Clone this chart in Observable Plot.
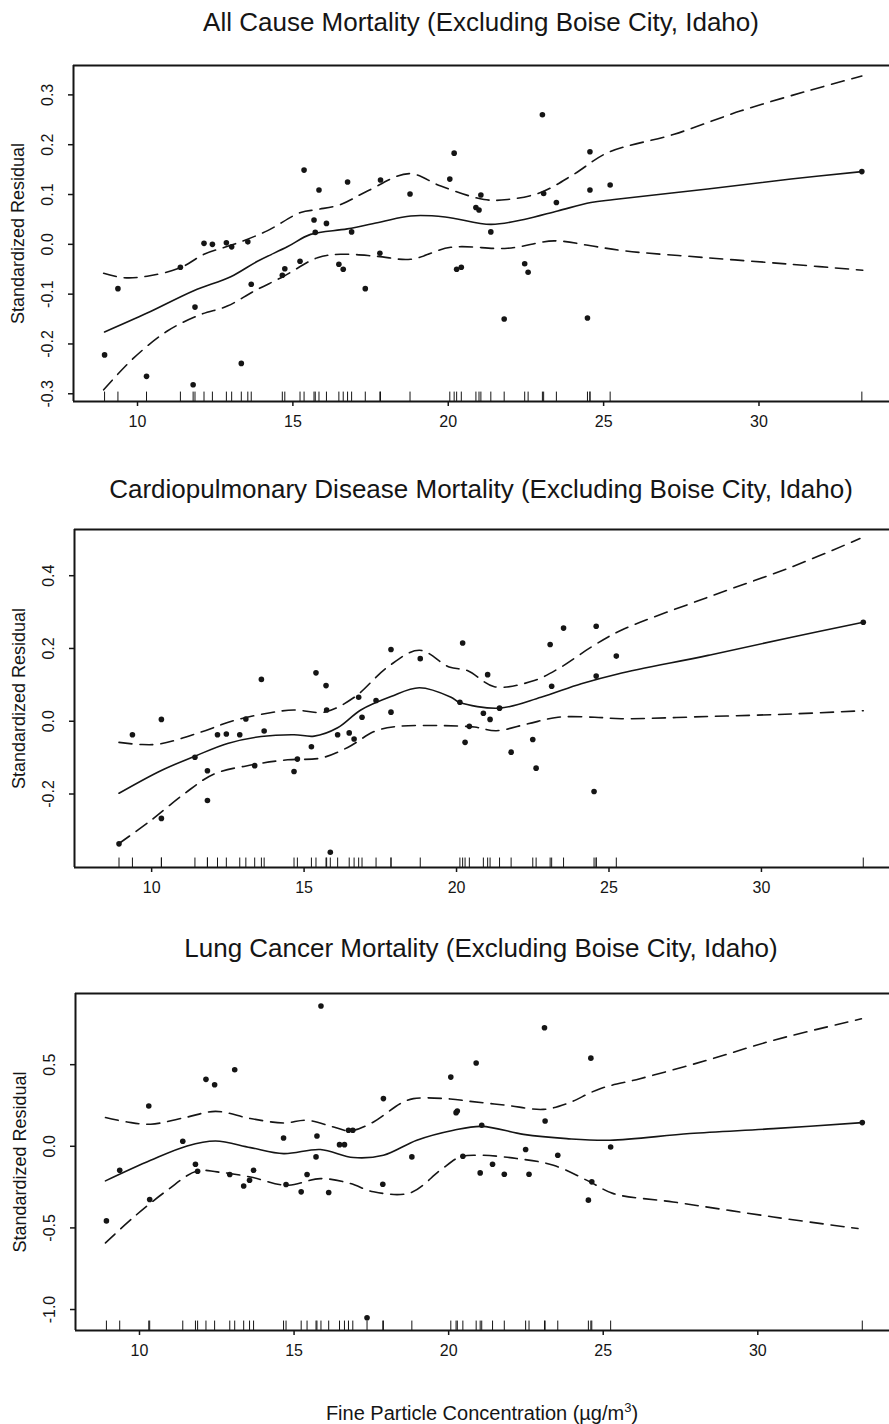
<!DOCTYPE html>
<html><head><meta charset="utf-8">
<script src="https://cdn.jsdelivr.net/npm/d3@7"></script>
<script src="https://cdn.jsdelivr.net/npm/@observablehq/plot@0.6"></script>
<style>
body{margin:0;background:#fff;font-family:"Liberation Sans",Arial,Helvetica,sans-serif;}
#wrap{position:relative;width:889px;height:1424px;overflow:hidden;background:#fff;}
.title{position:absolute;left:73px;width:816px;text-align:center;font-size:26px;line-height:30px;color:#151515;white-space:nowrap;}
.panel{position:absolute;left:0;}
.xtitle{position:absolute;left:75px;width:814px;text-align:center;font-size:20px;line-height:24px;color:#151515;white-space:nowrap;}
</style></head><body><div id="wrap"></div>
<script>
// ---------- shared ----------
const xTicks = [10, 15, 20, 25, 30];
const yLabel = "Standardized Residual";
const xLabel = "Fine Particle Concentration (µg/m<sup style='font-size:13px'>3</sup>)";

// ---------- All Cause ----------
const acTitle = "All Cause Mortality (Excluding Boise City, Idaho)";
const acTicks = [-0.3, -0.2, -0.1, 0.0, 0.1, 0.2, 0.3];
const acPoints = [[8.94,-0.222],[9.37,-0.089],[10.29,-0.265],[11.38,-0.046],[11.79,-0.282],[11.85,-0.126],[12.14,0.002],[12.41,0.0],[12.86,0.003],[13.03,-0.005],[13.34,-0.239],[13.55,0.005],[13.66,-0.08],[14.66,-0.062],[14.74,-0.049],[15.23,-0.034],[15.36,0.149],[15.68,0.049],[15.72,0.024],[15.84,0.109],[16.08,0.042],[16.48,-0.04],[16.62,-0.05],[16.76,0.125],[16.89,0.025],[17.33,-0.089],[17.82,0.129],[17.80,-0.018],[18.77,0.101],[20.05,0.131],[20.19,0.183],[20.27,-0.05],[20.42,-0.046],[20.89,0.074],[20.99,0.069],[21.05,0.099],[21.37,0.025],[21.80,-0.15],[22.46,-0.039],[22.57,-0.056],[23.03,0.26],[23.07,0.102],[23.48,0.084],[24.48,-0.148],[24.56,0.186],[24.56,0.109],[25.21,0.119],[33.31,0.146]];
const acFit = [[8.94,-0.176],[10.31,-0.138],[11.81,-0.093],[13.0,-0.065],[13.86,-0.034],[14.82,-0.005],[15.57,0.02],[16.75,0.031],[17.83,0.045],[18.79,0.057],[19.9,0.055],[21.37,0.040],[22.44,0.05],[23.52,0.067],[24.59,0.084],[25.34,0.09],[28.35,0.111],[31.03,0.131],[33.31,0.146]];
const acUpper = [[8.91,-0.058],[9.56,-0.067],[10.31,-0.064],[11.38,-0.047],[12.14,-0.02],[13.1,0.0],[14.17,0.027],[15.25,0.064],[15.79,0.07],[16.54,0.08],[17.40,0.107],[18.74,0.142],[19.76,0.117],[21.15,0.09],[21.91,0.09],[22.97,0.104],[24.05,0.141],[25.13,0.184],[27.27,0.221],[29.42,0.268],[31.57,0.308],[33.31,0.338]];
const acLower = [[8.91,-0.292],[9.88,-0.228],[10.96,-0.174],[12.03,-0.141],[12.89,-0.124],[13.75,-0.094],[14.71,-0.064],[15.79,-0.027],[16.54,-0.02],[17.71,-0.024],[18.79,-0.03],[20.08,-0.006],[21.91,-0.008],[23.41,0.007],[24.59,-0.003],[25.66,-0.013],[28.35,-0.027],[31.03,-0.04],[33.34,-0.052]];

// ---------- Cardiopulmonary ----------
const cpTitle = "Cardiopulmonary Disease Mortality (Excluding Boise City, Idaho)";
const cpTicks = [-0.2, 0.0, 0.2, 0.4];
const cpPoints = [[8.93,-0.337],[9.37,-0.037],[10.32,0.005],[10.32,-0.267],[11.42,-0.099],[11.83,-0.136],[11.83,-0.218],[12.16,-0.037],[12.45,-0.035],[12.89,-0.037],[13.09,0.006],[13.38,-0.122],[13.60,0.115],[13.69,-0.027],[14.67,-0.138],[14.78,-0.104],[15.24,-0.07],[15.39,0.133],[15.72,0.098],[15.74,0.031],[15.86,-0.36],[16.1,-0.037],[16.48,-0.032],[16.64,-0.049],[16.79,0.066],[16.9,0.011],[17.36,0.057],[17.85,0.197],[17.85,0.025],[18.81,0.172],[20.11,0.052],[20.2,0.215],[20.28,-0.058],[20.42,-0.014],[20.88,0.022],[21.02,0.128],[21.1,0.005],[21.41,0.036],[21.79,-0.085],[22.50,-0.05],[22.61,-0.129],[23.07,0.211],[23.12,0.096],[23.51,0.256],[24.51,-0.193],[24.58,0.261],[24.58,0.124],[25.24,0.179],[33.34,0.272]];
const cpFit = [[8.93,-0.198],[10.3,-0.136],[11.42,-0.096],[12.49,-0.061],[13.59,-0.042],[14.67,-0.037],[15.33,-0.041],[16.1,-0.018],[16.86,0.031],[17.85,0.068],[18.78,0.092],[19.82,0.066],[20.09,0.052],[21.41,0.036],[22.77,0.066],[24.09,0.103],[25.29,0.130],[28.25,0.181],[30.99,0.231],[33.34,0.272]];
const cpUpper = [[8.93,-0.058],[9.64,-0.064],[10.3,-0.062],[11.61,-0.030],[12.7,0.002],[13.8,0.022],[14.67,0.031],[15.66,0.025],[16.65,0.066],[17.74,0.149],[18.78,0.195],[19.76,0.149],[20.37,0.139],[21.24,0.095],[22.55,0.112],[23.43,0.149],[24.42,0.204],[25.4,0.25],[28.25,0.341],[30.99,0.424],[33.23,0.502]];
const cpLower = [[8.93,-0.336],[9.97,-0.273],[11.06,-0.2],[12.05,-0.145],[13.36,-0.119],[14.46,-0.106],[15.56,-0.101],[16.43,-0.072],[17.31,-0.028],[17.97,-0.015],[19.49,-0.012],[20.59,-0.016],[21.3,-0.026],[22.34,-0.007],[23.33,0.011],[24.53,0.011],[25.4,0.007],[28.25,0.013],[30.99,0.02],[33.34,0.029]];

// ---------- Lung Cancer ----------
const lcTitle = "Lung Cancer Mortality (Excluding Boise City, Idaho)";
const lcTicks = [-1.0, -0.5, 0.0, 0.5];
const lcPoints = [[8.93,-0.457],[9.36,-0.147],[10.30,0.247],[10.33,-0.326],[11.40,0.031],[11.81,-0.11],[11.88,-0.153],[12.15,0.41],[12.43,0.377],[12.92,-0.173],[13.08,0.469],[13.37,-0.243],[13.56,-0.208],[13.69,-0.147],[14.66,0.051],[14.74,-0.234],[15.23,-0.279],[15.42,-0.173],[15.71,-0.065],[15.74,0.063],[15.87,0.859],[16.12,-0.283],[16.47,0.010],[16.63,0.010],[16.76,0.098],[16.9,0.098],[17.36,-1.05],[17.89,0.292],[17.87,-0.233],[18.81,-0.065],[20.07,0.424],[20.24,0.206],[20.28,0.216],[20.46,-0.061],[20.89,0.51],[21.02,-0.163],[21.07,0.129],[21.42,-0.11],[21.8,-0.171],[22.49,-0.02],[22.6,-0.171],[23.1,0.726],[23.12,0.155],[23.53,-0.055],[24.52,-0.33],[24.6,0.54],[24.63,-0.218],[25.24,-0.004],[33.38,0.145]];
const lcFit = [[8.9,-0.212],[10.36,-0.086],[11.54,0.002],[12.46,0.032],[13.59,-0.008],[14.66,-0.045],[15.85,-0.02],[16.92,-0.069],[17.89,-0.055],[18.97,0.037],[20.16,0.098],[21.07,0.122],[22.42,0.073],[23.82,0.047],[25.22,0.037],[27.8,0.078],[30.5,0.108],[33.38,0.145]];
const lcUpper = [[8.9,0.176],[9.6,0.149],[10.36,0.135],[11.54,0.179],[12.46,0.214],[13.59,0.17],[14.66,0.143],[15.42,0.159],[16.28,0.118],[16.82,0.094],[17.57,0.149],[18.43,0.261],[18.86,0.292],[20.05,0.29],[20.7,0.275],[21.88,0.251],[23.06,0.226],[23.82,0.261],[24.9,0.353],[26.19,0.414],[28.34,0.526],[30.5,0.649],[33.35,0.781]];
const lcLower = [[8.9,-0.592],[9.82,-0.433],[10.9,-0.269],[11.86,-0.151],[12.51,-0.157],[13.59,-0.188],[14.77,-0.239],[15.85,-0.198],[16.82,-0.228],[17.57,-0.279],[18.76,-0.285],[19.73,-0.147],[20.37,-0.065],[21.02,-0.055],[22.2,-0.075],[23.39,-0.116],[24.57,-0.218],[25.33,-0.29],[27.26,-0.341],[30.5,-0.433],[33.24,-0.504]];

// ---------- layout ----------
const panels = [
  {title: acTitle, titleY: 22, top: 65, axis: 401, ml: 73, xDomain: [7.94, 34.2], yDomain: [-0.3155, 0.359], ticks: acTicks, points: acPoints, fit: acFit, upper: acUpper, lower: acLower},
  {title: cpTitle, titleY: 489, top: 529, axis: 867, ml: 74, xDomain: [7.47, 34.2], yDomain: [-0.402, 0.527], ticks: cpTicks, points: cpPoints, fit: cpFit, upper: cpUpper, lower: cpLower},
  {title: lcTitle, titleY: 948, top: 993, axis: 1330, ml: 75, xDomain: [7.93, 34.26], yDomain: [-1.1285, 0.936], ticks: lcTicks, points: lcPoints, fit: lcFit, upper: lcUpper, lower: lcLower}
];

const wrap = document.getElementById("wrap");
const font = "'Liberation Sans', Arial, Helvetica, sans-serif";
const ink = "#151515";

for (const p of panels) {
  const t = document.createElement("div");
  t.className = "title";
  t.style.top = (p.titleY - 15) + "px";
  t.textContent = p.title;
  wrap.appendChild(t);

  const mt = 10, mb = 40;
  const [ymin, ymax] = p.yDomain;
  const lineOpts = {x: d => d[0], y: d => d[1], stroke: ink, strokeWidth: 1.6, curve: "catmull-rom"};
  const chart = Plot.plot({
    width: 889,
    height: (p.axis - p.top) + mt + mb,
    marginTop: mt, marginBottom: mb, marginLeft: p.ml, marginRight: 0,
    x: {domain: p.xDomain},
    y: {domain: p.yDomain},
    style: {fontFamily: font, color: ink, background: "white", overflow: "visible"},
    marks: [
      Plot.axisX(xTicks, {tickSize: 5, tickPadding: 9, fontSize: 16, label: null, strokeWidth: 1.5}),
      Plot.axisY(p.ticks, {tickSize: 5, tickFormat: () => "", label: null, strokeWidth: 1.5}),
      Plot.text(p.ticks, {y: d => d, frameAnchor: "left", textAnchor: "middle", dx: -26, rotate: -90, text: d => d.toFixed(1), fontSize: 16, fill: ink}),
      Plot.text([yLabel], {frameAnchor: "left", textAnchor: "middle", dx: -55, rotate: -90, fontSize: 18, fill: ink}),
      Plot.ruleY([ymin], {stroke: ink, strokeWidth: 2}),
      Plot.ruleY([ymax], {stroke: ink, strokeWidth: 2}),
      Plot.ruleX([p.xDomain[0]], {stroke: ink, strokeWidth: 2}),
      Plot.ruleX(p.points, {x: d => d[0], y1: () => ymin, y2: () => ymin + 0.028 * (ymax - ymin), stroke: ink, strokeWidth: 1}),
      Plot.line(p.upper, {...lineOpts, strokeDasharray: "13,8"}),
      Plot.line(p.lower, {...lineOpts, strokeDasharray: "13,8"}),
      Plot.line(p.fit, lineOpts),
      Plot.dot(p.points, {x: d => d[0], y: d => d[1], r: 2.8, fill: ink, stroke: "none"})
    ]
  });
  chart.classList.add("panel");
  chart.style.top = (p.top - mt) + "px";
  wrap.appendChild(chart);
}

const xt = document.createElement("div");
xt.className = "xtitle";
xt.style.top = (1408 - 12) + "px";
xt.innerHTML = xLabel;
wrap.appendChild(xt);
</script></body></html>
